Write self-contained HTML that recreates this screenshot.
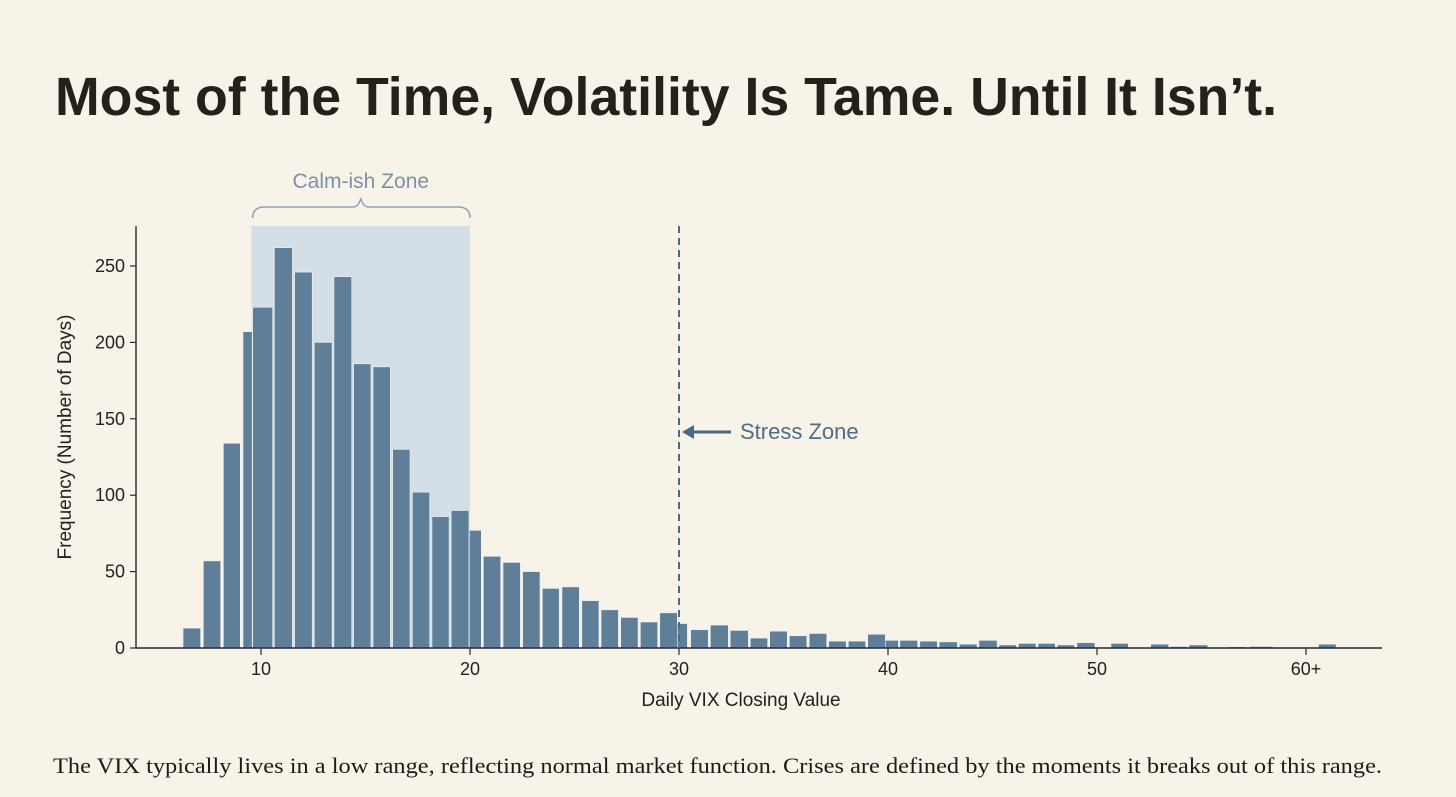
<!DOCTYPE html>
<html><head><meta charset="utf-8"><style>
html,body{margin:0;padding:0;background:#f7f3e8;}
svg{display:block;}
</style></head><body>
<svg id="chart" width="1456" height="797" viewBox="0 0 1456 797" xmlns="http://www.w3.org/2000/svg">
<rect width="1456" height="797" fill="#f7f3e8"/>
<text x="55" y="115" font-family="Liberation Sans, sans-serif" font-weight="bold" font-size="54" fill="#24211d" textLength="1222" lengthAdjust="spacingAndGlyphs">Most of the Time, Volatility Is Tame. Until It Isn’t.</text>
<g id="plot"></g>
<text x="53" y="773" font-family="Liberation Serif, serif" font-size="22" fill="#1e1c19" textLength="1329" lengthAdjust="spacingAndGlyphs">The VIX typically lives in a low range, reflecting normal market function. Crises are defined by the moments it breaks out of this range.</text>
</svg>
<script>
const binStart = [6.27,7.24,8.2,9.14,9.6,10.64,11.61,12.55,13.49,14.43,15.36,16.3,17.24,18.18,19.1,19.97,20.64,21.58,22.52,23.46,24.4,25.35,26.27,27.21,28.15,29.08,29.92,30.56,31.5,32.45,33.41,34.34,35.28,36.23,37.16,38.1,39.03,39.87,40.57,41.52,42.45,43.41,44.35,45.31,46.24,47.18,48.1,49.04,50.67,51.6,52.57,53.5,54.4,55.4,56.3,57.3,60.6];
const binEnd = [7.11,8.07,9.01,9.58,10.56,11.5,12.45,13.4,14.34,15.26,16.19,17.13,18.07,19.0,19.95,20.54,21.47,22.41,23.35,24.27,25.23,26.17,27.1,28.04,28.98,29.92,30.4,31.4,32.36,33.32,34.24,35.18,36.12,37.07,38.0,38.93,39.87,40.5,41.42,42.36,43.32,44.26,45.22,46.15,47.08,48.0,48.93,49.9,51.5,52.45,53.43,54.3,55.3,56.2,57.1,58.4,61.44];
const counts = [13,57,134,207,223,262,246,200,243,186,184,130,102,86,90,77,60,56,50,39,40,31,25,20,17,23,16,12,15,11.5,6.5,11,8,9.5,4.5,4.5,9,5,5,4.5,4,2.5,5,2,3,3,2,3.5,3,0.3,2.5,1,2,0.5,0.8,1,2.5];
const xTickValues = [10,20,30,40,50,60];
const xTickLabels = ["10","20","30","40","50","60+"];
const yTickValues = [0,50,100,150,200,250];
const calmZone = [9.55,20];
const stressLine = 30;

const NS = "http://www.w3.org/2000/svg";
const plot = document.getElementById("plot");
const xs = v => 261 + (v - 10) * 20.9;
const ys = v => 648 - v * 1.528;
function mk(tag, attrs, parent) {
  const e = document.createElementNS(NS, tag);
  for (const k in attrs) e.setAttribute(k, attrs[k]);
  (parent || plot).appendChild(e);
  return e;
}
const font = "Liberation Sans, sans-serif";

const shade = mk("rect", {x: xs(calmZone[0]), y: 226, width: xs(calmZone[1]) - xs(calmZone[0]), height: 648 - 226, fill: "#d4dee6"});



for (let i = 0; i < counts.length; i++) {
  const b = mk("rect", {x: xs(binStart[i]), y: ys(counts[i]), width: xs(binEnd[i]) - xs(binStart[i]), height: 648 - ys(counts[i]), fill: "#5f7f98", stroke: "#eef1f1", "stroke-width": 0.6});
  
  
}

const cx = (xs(calmZone[0]) + xs(calmZone[1])) / 2, l = xs(calmZone[0]) + 1, r = xs(calmZone[1]);
const brace = mk("path", {d: `M${l},218 Q${l},207 ${l+12},207 L${cx-8},207 Q${cx-2},207 ${cx},198 Q${cx+2},207 ${cx+8},207 L${r-12},207 Q${r},207 ${r},218`, fill: "none", stroke: "#8ea3b5", "stroke-width": 1.5});


const calmLbl = mk("text", {x: cx, y: 188, "text-anchor": "middle", "font-family": font, "font-size": 21, fill: "#7b93a7"});
calmLbl.textContent = "Calm-ish Zone";



const yAxis = mk("line", {x1: 136, y1: 226, x2: 136, y2: 648, stroke: "#2b2b2b", "stroke-width": 1.4});


const xAxis = mk("line", {x1: 136, y1: 648, x2: 1382, y2: 648, stroke: "#2b2b2b", "stroke-width": 1.4});



yTickValues.forEach(v => {
  const t = mk("line", {x1: 130, y1: ys(v), x2: 136, y2: ys(v), stroke: "#2b2b2b", "stroke-width": 1.2});
  
  
  const tl = mk("text", {x: 125, y: ys(v) + 6, "text-anchor": "end", "font-family": font, "font-size": 18, fill: "#222"});
  tl.textContent = String(v);
  
  
});
xTickValues.forEach((v, i) => {
  const t = mk("line", {x1: xs(v), y1: 648, x2: xs(v), y2: 655, stroke: "#2b2b2b", "stroke-width": 1.2});
  
  
  const tl = mk("text", {x: xs(v), y: 675, "text-anchor": "middle", "font-family": font, "font-size": 18, fill: "#222"});
  tl.textContent = xTickLabels[i];
  
  
});

const sl = mk("line", {x1: xs(stressLine), y1: 226, x2: xs(stressLine), y2: 648, stroke: "#4d6a82", "stroke-width": 2, "stroke-dasharray": "7,5"});


const arrow = mk("line", {x1: 731, y1: 432, x2: xs(stressLine) + 12, y2: 432, stroke: "#4d6a82", "stroke-width": 3});


const head = mk("path", {d: `M${xs(stressLine)+3},432 L${xs(stressLine)+15},425 L${xs(stressLine)+15},439 Z`, fill: "#4d6a82"});


const sLbl = mk("text", {x: 740, y: 439, "font-family": font, "font-size": 22, fill: "#4f6d85"});
sLbl.textContent = "Stress Zone";



const yt = mk("text", {x: 0, y: 0, transform: "translate(71,437) rotate(-90)", "text-anchor": "middle", "font-family": font, "font-size": 19, fill: "#222"});
yt.textContent = "Frequency (Number of Days)";


const xt = mk("text", {x: 741, y: 706, "text-anchor": "middle", "font-family": font, "font-size": 19, fill: "#222"});
xt.textContent = "Daily VIX Closing Value";


</script>
</body></html>
